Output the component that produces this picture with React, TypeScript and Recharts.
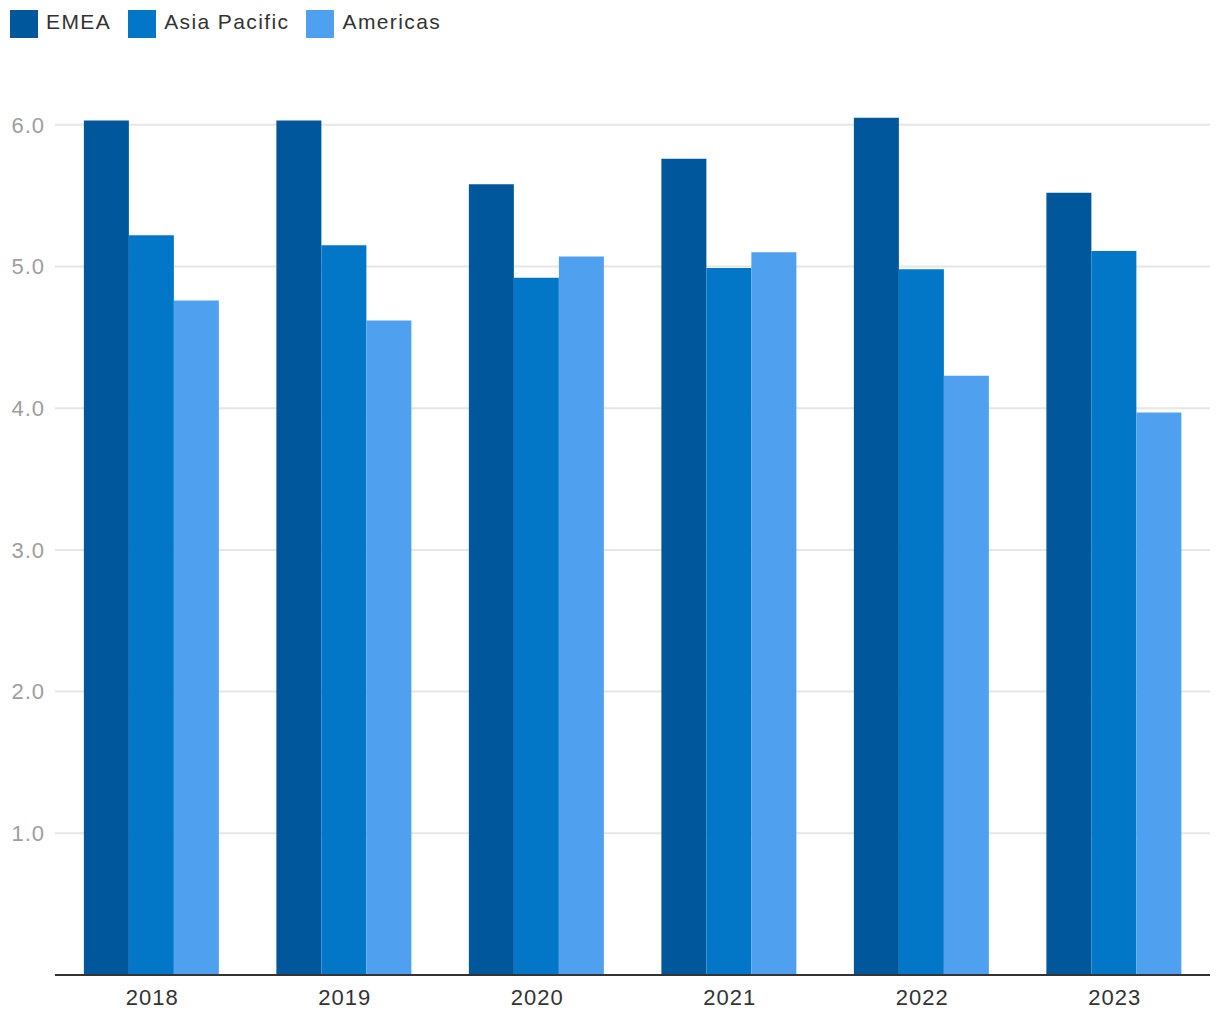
import { BarChart, Bar, XAxis, YAxis, CartesianGrid } from "recharts";

const years = ["2018", "2019", "2020", "2021", "2022", "2023"];
const emea = [6.03, 6.03, 5.58, 5.76, 6.05, 5.52];
const asiaPacific = [5.22, 5.15, 4.92, 4.99, 4.98, 5.11];
const americas = [4.76, 4.62, 5.07, 5.1, 4.23, 3.97];
const yTicks = [1, 2, 3, 4, 5, 6];
const yMax = 6.5;

const series = [
    { key: "emea", name: "EMEA", color: "#01579b" },
    { key: "asiaPacific", name: "Asia Pacific", color: "#0277c8" },
    { key: "americas", name: "Americas", color: "#4fa1f0" },
];

const data = years.map((year, i) => ({
    year,
    emea: emea[i],
    asiaPacific: asiaPacific[i],
    americas: americas[i],
}));

const font = "'Liberation Sans', Arial, Helvetica, sans-serif";

function YTick(props: any) {
    const { y, payload } = props;
    return (
        <text x={45} y={y} dy="0.355em" textAnchor="end" fill="#9e9e9e" fontSize={22} letterSpacing={1} fontFamily={font}>
            {Number(payload.value).toFixed(1)}
        </text>
    );
}

function XTick(props: any) {
    const { x, y, payload } = props;
    return (
        <text x={x + 1} y={y + 14} dy="0.355em" textAnchor="middle" fill="#333" fontSize={22} letterSpacing={1} fontFamily={font}>
            {payload.value}
        </text>
    );
}

// only the tick values get a grid line (no line at the top of the domain)
function gridRows({ offset }: any) {
    return yTicks.map((t) => offset.top + offset.height * (1 - t / yMax));
}

export default function App() {
    return (
        <div style={{ position: "absolute", top: 0, left: 0, width: 1220, height: 1020, background: "#fff", fontFamily: font }}>
            <div style={{ position: "absolute", top: 10, left: 10, display: "flex", alignItems: "center" }}>
                {series.map((s) => (
                    <div key={s.key} style={{ display: "flex", alignItems: "center", marginRight: 17 }}>
                        <div style={{ width: 28, height: 28, background: s.color, marginRight: 8 }} />
                        <span style={{ fontSize: 21, letterSpacing: 1.4, color: "#333", lineHeight: "24px", position: "relative", top: -2 }}>{s.name}</span>
                    </div>
                ))}
            </div>
            <BarChart
                width={1220}
                height={1020}
                data={data}
                margin={{ top: 54, right: 10, bottom: 0, left: 0 }}
                barCategoryGap="15%"
                barGap={0}
            >
                <CartesianGrid vertical={false} stroke="#e6e6e6" strokeWidth={2} horizontalCoordinatesGenerator={gridRows} />
                <XAxis
                    dataKey="year"
                    height={45}
                    tickLine={false}
                    axisLine={{ stroke: "#333", strokeWidth: 2 }}
                    tick={<XTick />}
                />
                <YAxis
                    width={55}
                    domain={[0, yMax]}
                    ticks={yTicks}
                    axisLine={false}
                    tickLine={false}
                    tick={<YTick />}
                />
                {series.map((s) => (
                    <Bar key={s.key} dataKey={s.key} name={s.name} fill={s.color} isAnimationActive={false} />
                ))}
            </BarChart>
        </div>
    );
}
